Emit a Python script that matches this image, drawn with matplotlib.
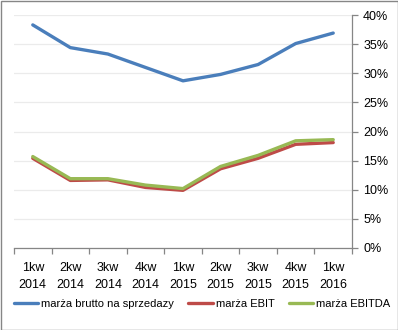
import matplotlib
matplotlib.use('Agg')
import matplotlib.pyplot as plt
from matplotlib.patches import Rectangle
from matplotlib.ticker import FixedLocator, PercentFormatter
import numpy as np

plt.rcParams['font.family'] = ['Liberation Sans', 'DejaVu Sans']

categories = ['1kw\n2014', '2kw\n2014', '3kw\n2014', '4kw\n2014', '1kw\n2015',
              '2kw\n2015', '3kw\n2015', '4kw\n2015', '1kw\n2016']
brutto = [38.3, 34.4, 33.3, 31.0, 28.7, 29.8, 31.5, 35.1, 36.9]
ebit = [15.4, 11.6, 11.7, 10.4, 9.9, 13.6, 15.4, 17.8, 18.1]
ebitda = [15.7, 11.9, 11.9, 10.8, 10.2, 14.0, 15.9, 18.4, 18.6]
series_names = ['marża brutto na sprzedazy', 'marża EBIT', 'marża EBITDA']

C_BLUE = '#4A7EBB'; C_RED = '#BE4B48'; C_GREEN = '#98B954'; C_AX = '#868686'

fig = plt.figure(figsize=(3.98, 3.30), dpi=100)
ax = fig.add_axes([14/398, 1 - 248/330, (352 - 14)/398, (248 - 15)/330])

x = np.arange(len(categories))
ax.plot(x, brutto, color=C_BLUE, lw=2.4, label=series_names[0], solid_capstyle='round')
ax.plot(x, ebit, color=C_RED, lw=2.4, label=series_names[1], solid_capstyle='round')
ax.plot(x, ebitda, color=C_GREEN, lw=2.4, label=series_names[2], solid_capstyle='round')

ax.set_xlim(-0.5, len(categories) - 0.5)
ax.set_ylim(0, 40)
ax.yaxis.tick_right()
ax.set_yticks(np.arange(0, 41, 5))
ax.yaxis.set_major_formatter(PercentFormatter(decimals=0))
ax.grid(axis='y', color='#EBEBEB', lw=0.9)
ax.set_axisbelow(True)

ax.set_xticks(x)
ax.set_xticklabels(categories, linespacing=1.6)
ax.xaxis.set_minor_locator(FixedLocator(np.arange(-0.5, len(categories), 1)))
ax.tick_params(axis='x', which='major', length=0, pad=10, labelsize=9)
ax.tick_params(axis='x', which='minor', length=4, color=C_AX, width=0.9)
ax.tick_params(axis='y', length=4, color=C_AX, width=0.9, labelsize=9, pad=4)

for s in ['top', 'left']:
    ax.spines[s].set_visible(False)
for s in ['right', 'bottom']:
    ax.spines[s].set_color(C_AX)
    ax.spines[s].set_linewidth(0.9)

fig.legend(loc='lower left', bbox_to_anchor=(0.035, 0.063), ncol=3, frameon=False,
           fontsize=8.0, handlelength=2.2, handletextpad=0.25, columnspacing=1.3,
           borderaxespad=0, borderpad=0)

fig.patches.append(Rectangle((0.5/398, 0.5/330), 1 - 1/398, 1 - 1/330,
                             transform=fig.transFigure, fill=False,
                             edgecolor=C_AX, lw=1.0))

fig.savefig('out.png', dpi=100, facecolor='white')
